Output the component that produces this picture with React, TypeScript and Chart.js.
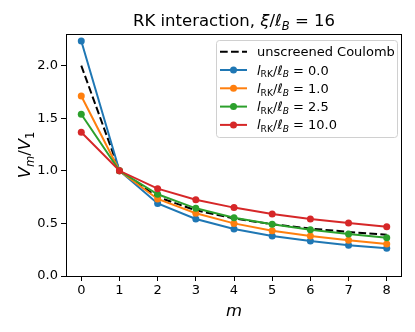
import React, { useEffect, useRef } from "react";
import { Chart, registerables } from "chart.js";

Chart.register(...registerables);

const mValues = [0, 1, 2, 3, 4, 5, 6, 7, 8];
const coulomb = [2.0, 1.0, 0.75, 0.625, 0.547, 0.492, 0.451, 0.419, 0.392];
const rk0 = [2.234, 1.0, 0.69, 0.542, 0.447, 0.38, 0.333, 0.292, 0.263];
const rk1 = [1.711, 1.0, 0.732, 0.596, 0.5, 0.431, 0.38, 0.34, 0.304];
const rk25 = [1.537, 1.0, 0.777, 0.643, 0.554, 0.491, 0.44, 0.4, 0.364];
const rk10 = [1.366, 1.0, 0.83, 0.725, 0.65, 0.589, 0.542, 0.504, 0.469];
const rkLabels = ["0.0", "1.0", "2.5", "10.0"];
const xTicks = [0, 1, 2, 3, 4, 5, 6, 7, 8];
const yTicks = [0, 0.5, 1.0, 1.5, 2.0];

const COLORS = ["#1f77b4", "#ff7f0e", "#2ca02c", "#d62728"];
const FONT = "DejaVu Sans";

type Seg = { t: string; it?: boolean; sub?: boolean };

function segFont(s: Seg, size: number) {
  const sz = s.sub ? size * 0.7 : size;
  return `${s.it ? "italic " : ""}${sz}px "${FONT}"`;
}

function drawRich(ctx: CanvasRenderingContext2D, segs: Seg[], x: number, y: number, size: number, align: "left" | "center") {
  let w = 0;
  for (const s of segs) {
    ctx.font = segFont(s, size);
    w += ctx.measureText(s.t).width;
  }
  let cx = align === "center" ? x - w / 2 : x;
  ctx.textAlign = "left";
  ctx.textBaseline = "alphabetic";
  for (const s of segs) {
    ctx.font = segFont(s, size);
    ctx.fillText(s.t, cx, s.sub ? y + size * 0.22 : y);
    cx += ctx.measureText(s.t).width;
  }
  return w;
}

const toXY = (arr: number[]) => arr.map((v, i) => ({ x: mValues[i], y: v }));

const decorPlugin = {
  id: "decor",
  afterDraw(chart: any) {
    const ctx: CanvasRenderingContext2D = chart.ctx;
    const a = chart.chartArea;
    ctx.save();
    // frame
    ctx.strokeStyle = "#000";
    ctx.lineWidth = 1;
    ctx.strokeRect(Math.round(a.left) + 0.5, Math.round(a.top) + 0.5, Math.round(a.right - a.left) - 1, Math.round(a.bottom - a.top));
    ctx.fillStyle = "#000";
    // title
    const cx = (a.left + a.right) / 2;
    drawRich(ctx, [
      { t: "RK interaction, " },
      { t: "ξ", it: true },
      { t: "/" },
      { t: "ℓ", it: true },
      { t: "B", it: true, sub: true },
      { t: " = 16" },
    ], cx, 26, 16.5, "center");
    // x label
    drawRich(ctx, [{ t: "m", it: true }], cx, 316, 16.5, "center");
    // y label
    ctx.save();
    ctx.translate(30, (a.top + a.bottom) / 2);
    ctx.rotate(-Math.PI / 2);
    drawRich(ctx, [
      { t: "V", it: true },
      { t: "m", it: true, sub: true },
      { t: "/" },
      { t: "V", it: true },
      { t: "1", sub: true },
    ], 0, 0, 16.5, "center");
    ctx.restore();
    // legend
    const bx = a.right - 186;
    const by = a.top + 6;
    const bw = 181;
    const bh = 97;
    ctx.beginPath();
    (ctx as any).roundRect(bx + 0.5, by + 0.5, bw, bh, 3);
    ctx.fillStyle = "rgba(255,255,255,0.8)";
    ctx.fill();
    ctx.strokeStyle = "#d0d0d0";
    ctx.lineWidth = 1;
    ctx.stroke();
    const hx0 = bx + 4;
    const hx1 = bx + 31;
    const tx = bx + 41;
    const fs = 13;
    for (let i = 0; i < 5; i++) {
      const ry = by + 11.7 + i * 18.3;
      ctx.lineWidth = 2;
      if (i === 0) {
        ctx.strokeStyle = "#000";
        ctx.setLineDash([7.7, 3.3]);
      } else {
        ctx.strokeStyle = COLORS[i - 1];
        ctx.setLineDash([]);
      }
      ctx.beginPath();
      ctx.moveTo(hx0, ry);
      ctx.lineTo(hx1, ry);
      ctx.stroke();
      ctx.setLineDash([]);
      ctx.fillStyle = "#000";
      if (i === 0) {
        drawRich(ctx, [{ t: "unscreened Coulomb" }], tx, ry + 4.5, fs, "left");
      } else {
        ctx.fillStyle = COLORS[i - 1];
        ctx.beginPath();
        ctx.arc((hx0 + hx1) / 2, ry, 3.5, 0, Math.PI * 2);
        ctx.fill();
        ctx.fillStyle = "#000";
        drawRich(ctx, [
          { t: "l", it: true },
          { t: "RK", sub: true },
          { t: "/" },
          { t: "ℓ", it: true },
          { t: "B", it: true, sub: true },
          { t: " = " + rkLabels[i - 1] },
        ], tx, ry + 4.5, fs, "left");
      }
    }
    ctx.restore();
  },
};

export default function App() {
  const ref = useRef<HTMLCanvasElement | null>(null);
  useEffect(() => {
    if (!ref.current) return;
    const series = [rk0, rk1, rk25, rk10];
    const datasets: any[] = [
      {
        label: "unscreened Coulomb",
        data: toXY(coulomb),
        borderColor: "#000",
        borderWidth: 2,
        borderDash: [7.7, 3.3],
        pointRadius: 0,
        fill: false,
        order: 5,
      },
      ...series.map((s, i) => ({
        label: "lRK/lB = " + rkLabels[i],
        data: toXY(s),
        borderColor: COLORS[i],
        backgroundColor: COLORS[i],
        borderWidth: 2,
        pointRadius: 3.5,
        pointBorderWidth: 0,
        pointBackgroundColor: COLORS[i],
        fill: false,
        order: 4 - i,
      })),
    ];
    const chart = new Chart(ref.current, {
      type: "line",
      data: { datasets },
      options: {
        animation: false,
        responsive: false,
        devicePixelRatio: 1,
        layout: { padding: { left: 0, top: 34, right: 13, bottom: 0 } },
        plugins: { legend: { display: false }, title: { display: false }, tooltip: { enabled: false } },
        scales: {
          x: {
            type: "linear",
            min: -0.4,
            max: 8.4,
            afterBuildTicks: (s: any) => { s.ticks = xTicks.map((v) => ({ value: v })); },
            afterFit: (s: any) => { s.height = 56; },
            grid: { display: true, drawOnChartArea: false, drawTicks: true, tickLength: 5, color: "#000", lineWidth: 1 },
            border: { display: false },
            ticks: { color: "#000", font: { family: FONT, size: 13 }, padding: 2, maxRotation: 0, callback: (v: any) => String(v) },
          },
          y: {
            type: "linear",
            min: 0,
            max: 2.3,
            afterBuildTicks: (s: any) => { s.ticks = yTicks.map((v) => ({ value: v })); },
            afterFit: (s: any) => { s.width = 66; },
            grid: { display: true, drawOnChartArea: false, drawTicks: true, tickLength: 5, color: "#000", lineWidth: 1 },
            border: { display: false },
            ticks: { color: "#000", font: { family: FONT, size: 13 }, padding: 3, callback: (v: any) => Number(v).toFixed(1) },
          },
        },
      } as any,
      plugins: [decorPlugin],
    });
    return () => chart.destroy();
  }, []);
  return (
    <div style={{ position: "fixed", left: 0, top: 0, width: 415, height: 332, background: "#fff" }}>
      <canvas ref={ref} width={415} height={332} style={{ width: 415, height: 332 }} />
    </div>
  );
}
